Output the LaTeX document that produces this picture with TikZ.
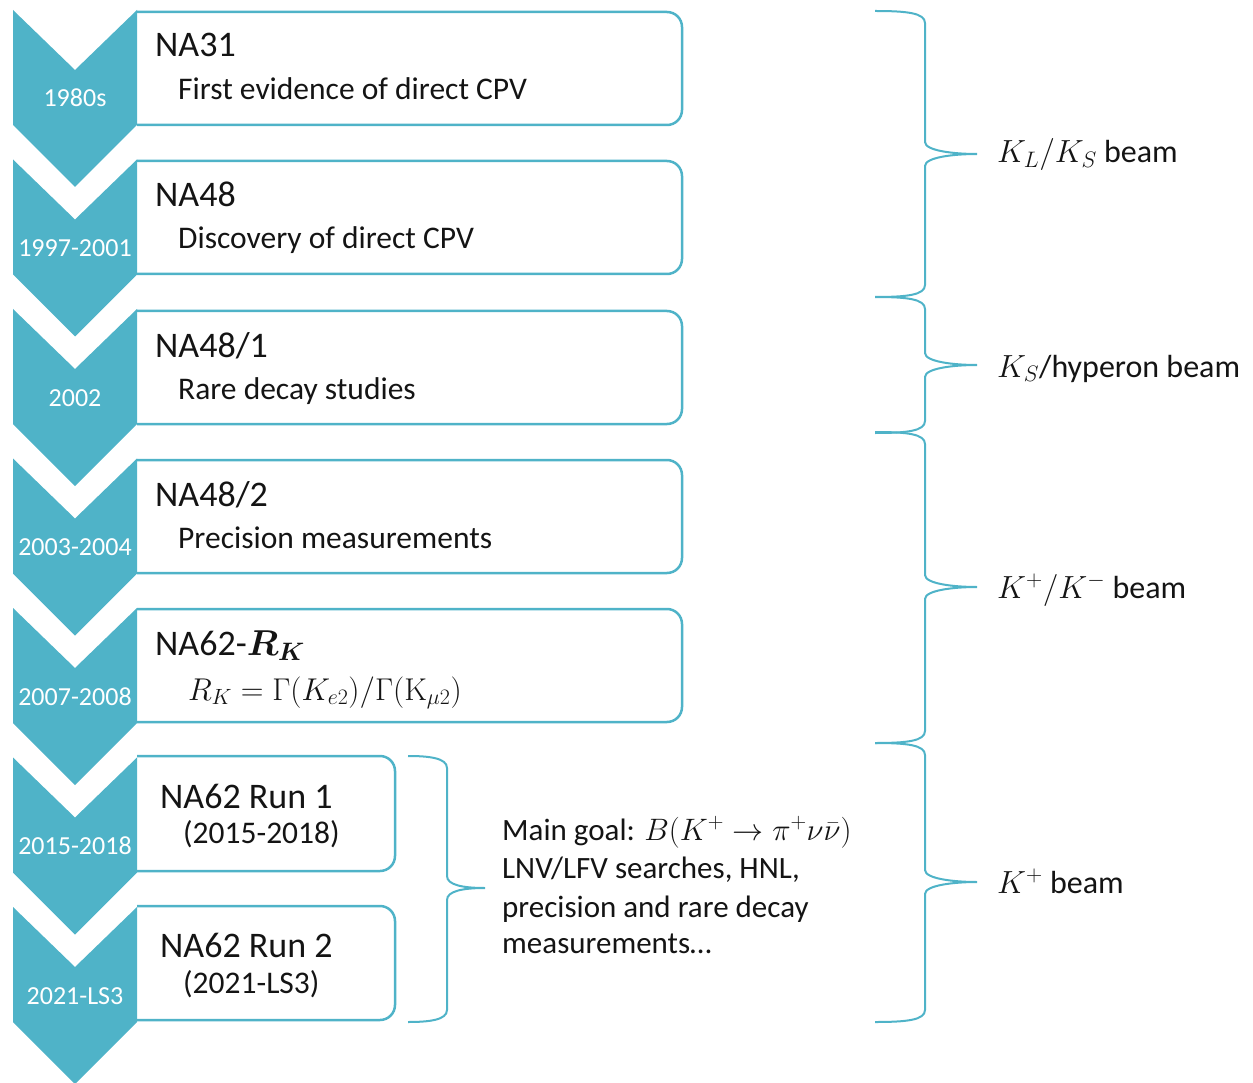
\RequirePackage{fix-cm}
\documentclass[tikz,border=0pt]{standalone}
\usepackage[no-math]{fontspec}
\setmainfont{Carlito}
\usepackage{bm}
\definecolor{tealc}{RGB}{79,179,200}
\definecolor{txt}{RGB}{20,20,20}
\newcommand\chevronat[1]{%
  \fill[tealc] (13,#1) -- (75,#1+60) -- (137,#1) -- (137,#1+115) -- (75,#1+177) -- (13,#1+115) -- cycle;}
\newcommand\boxat[3]{%
  \draw[boxline] (137,#1) -- (#3,#1) -- (#3,#2) -- (137,#2);}
% brace: xleft, xvert, xtip, top, tip, bottom
\newcommand\bracefig[6]{%
  \draw[brc] (#1,#4) .. controls (#2-18,#4) and (#2,#4+2) .. (#2,#4+12)
    -- (#2,#5-12) .. controls (#2,#5-3) and (#3-22,#5) .. (#3,#5)
    .. controls (#3-22,#5) and (#2,#5+3) .. (#2,#5+12)
    -- (#2,#6-12) .. controls (#2,#6-2) and (#2-18,#6) .. (#1,#6);}
\begin{document}
\begin{tikzpicture}[x=1pt,y=-1pt,
  boxline/.style={draw=tealc,line width=2.5pt,rounded corners=15pt},
  brc/.style={draw=tealc,line width=2pt},
  ttl/.style={anchor=base west,inner sep=0pt,text=txt,font=\fontsize{36}{43}\selectfont},
  subtxt/.style={anchor=base west,inner sep=0pt,text=txt,font=\fontsize{31.5}{38}\selectfont},
  goaltxt/.style={anchor=base west,inner sep=0pt,text=txt,font=\fontsize{31}{38}\selectfont},
  yr/.style={anchor=base,inner sep=0pt,text=white,font=\fontsize{26}{30}\selectfont},
  beamtxt/.style={anchor=base west,inner sep=0pt,text=txt,font=\fontsize{32}{38}\selectfont}]
\useasboundingbox (0,0) rectangle (1253,1083);
% boxes
\boxat{12}{125}{682}
\boxat{161}{274}{682}
\boxat{311}{424}{682}
\boxat{460}{573}{682}
\boxat{609}{722}{682}
\boxat{756}{871}{395}
\boxat{906}{1020}{395}
% chevrons
\chevronat{10}
\chevronat{159.5}
\chevronat{309}
\chevronat{458.5}
\chevronat{608}
\chevronat{757.5}
\chevronat{907}
% years
\node[yr] (y1) at (75,107) {1980s};
\node[yr] (y2) at (75,256.5) {1997-2001};
\node[yr] (y3) at (75,406) {2002};
\node[yr] (y4) at (75,555.5) {2003-2004};
\node[yr] (y5) at (75,705) {2007-2008};
\node[yr] (y6) at (75,854.5) {2015-2018};
\node[yr] (y7) at (75,1004) {2021-LS3};
% titles and subtitles
\node[ttl] (t1) at (155,57) {NA31};
\node[subtxt] (s1) at (178,100) {First evidence of direct CPV};
\node[ttl] (t2) at (155,207) {NA48};
\node[subtxt] (s2) at (178,249) {Discovery of direct CPV};
\node[ttl] (t3) at (155,357) {NA48/1};
\node[subtxt] (s3) at (178,399) {Rare decay studies};
\node[ttl] (t4) at (155,506) {NA48/2};
\node[subtxt] (s4) at (178,548) {Precision measurements};
\node[ttl] (t5) at (155,655) {NA62-$\bm{R_K}$};
\node[subtxt] (s5) at (188,700) {$R_K=\Gamma(K_{e2})/\Gamma(\mathrm{K}_{\mu2})$};
\node[ttl] (t6) at (160,808) {NA62 Run 1};
\node[subtxt] (s6) at (183,843) {(2015-2018)};
\node[ttl] (t7) at (160,957) {NA62 Run 2};
\node[subtxt] (s7) at (183,993) {(2021-LS3)};
% inner brace and text
\bracefig{408}{447}{485}{756}{888}{1022}
\node[goaltxt] (g1) at (502,840) {Main goal: $B(K^+\to\pi^+\nu\bar{\nu})$};
\node[goaltxt] (g2) at (502,878) {LNV/LFV searches, HNL,};
\node[goaltxt] (g3) at (502,917) {precision and rare decay};
\node[goaltxt] (g4) at (502,953) {measurements…};
% right braces
\bracefig{875}{925}{977}{11}{154}{297}
\bracefig{875}{925}{977}{297}{365}{433}
\bracefig{875}{925}{977}{432}{587}{743}
\bracefig{875}{925}{977}{743}{882}{1022}
\node[beamtxt] (b1) at (997,163) {$K_L/K_S$ beam};
\node[beamtxt] (b2) at (997,377) {$K_S$/hyperon beam};
\node[beamtxt] (b3) at (997,598) {$K^+/K^-$ beam};
\node[beamtxt] (b4) at (997,893) {$K^+$ beam};
\end{tikzpicture}
\end{document}
